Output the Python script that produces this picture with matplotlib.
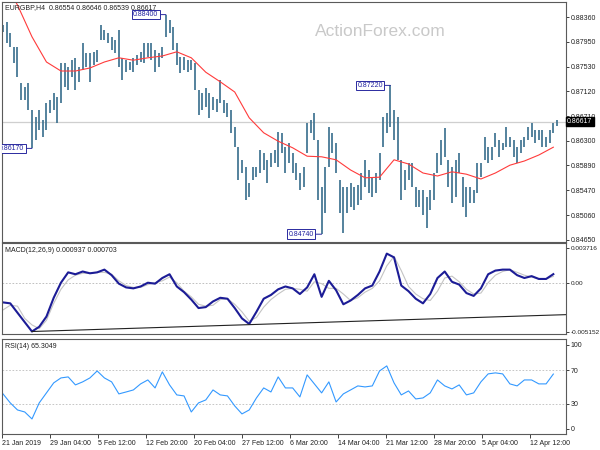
import matplotlib
matplotlib.use("Agg")
import matplotlib.pyplot as plt
import numpy as np

plt.rcParams["font.family"] = ["Liberation Sans", "DejaVu Sans"]

# ---- data (one entry ~ 2.4 H4 candles) ----
symbol = "EURGBP,H4"
last_ohlc = [0.86554, 0.86646, 0.86539, 0.86617]

highs = [
    0.8823, 0.8828, 0.8809, 0.8786, 0.8786, 0.8726, 0.8719, 0.8726, 0.8681, 0.8669,
    0.8681, 0.8664, 0.8693, 0.8698, 0.8709, 0.8703, 0.8759, 0.8759, 0.8753, 0.8764,
    0.8768, 0.8753, 0.8793, 0.8776, 0.8776, 0.8778, 0.8781, 0.8823, 0.8814, 0.8809,
    0.8803, 0.8798, 0.8814, 0.8768, 0.8764, 0.8761, 0.8768, 0.8773, 0.8778, 0.8793,
    0.8793, 0.8793, 0.8781, 0.8776, 0.8786, 0.8840, 0.8831, 0.8819, 0.8793, 0.8769,
    0.8769, 0.8764, 0.8764, 0.8759, 0.8714, 0.8709, 0.8718, 0.8709, 0.8703, 0.8699,
    0.8731, 0.8698, 0.8693, 0.8681, 0.8653, 0.8619, 0.8598, 0.8586, 0.8559, 0.8586,
    0.8586, 0.8614, 0.8609, 0.8598, 0.8609, 0.8614, 0.8644,
    0.8643, 0.8619, 0.8626, 0.8609, 0.8593, 0.8576, 0.8586, 0.8659, 0.8664, 0.8676,
    0.8631, 0.8553, 0.8586, 0.8653, 0.8643, 0.8626, 0.8564, 0.8553, 0.8553, 0.8559,
    0.8553, 0.8556, 0.8576, 0.8598, 0.8581, 0.8569, 0.8576, 0.8609, 0.8669, 0.8676,
    0.8722, 0.8681, 0.8669, 0.8598, 0.8581, 0.8593, 0.8593, 0.8553, 0.8548,
    0.8548, 0.8536, 0.8548, 0.8576, 0.8609, 0.8631, 0.8651, 0.8598, 0.8586, 0.8598,
    0.8609, 0.8569, 0.8553, 0.8553, 0.8548, 0.8593, 0.8593, 0.8636, 0.8619, 0.8619,
    0.8643, 0.8631, 0.8626, 0.8653, 0.8636, 0.8631, 0.8619, 0.8631, 0.8636, 0.8653,
    0.8659, 0.8648, 0.8648, 0.8648, 0.8636, 0.8648, 0.8659, 0.86646,
]
lows = [
    0.8811, 0.8793, 0.8786, 0.8759, 0.8736, 0.8698, 0.8698, 0.8681, 0.8617, 0.8631,
    0.8648, 0.8636, 0.8648, 0.8676, 0.8681, 0.8659, 0.8693, 0.8719, 0.8714, 0.8736,
    0.8714, 0.8728, 0.8748, 0.8753, 0.8728, 0.8756, 0.8761, 0.8798, 0.8798, 0.8793,
    0.8781, 0.8776, 0.8753, 0.8731, 0.8744, 0.8748, 0.8744, 0.8756, 0.8761, 0.8759,
    0.8769, 0.8764, 0.8744, 0.8753, 0.8768, 0.8803, 0.8809, 0.8781, 0.8756, 0.8743,
    0.8748, 0.8744, 0.8748, 0.8714, 0.8673, 0.8681, 0.8686, 0.8668, 0.8681, 0.8678,
    0.8693, 0.8676, 0.8669, 0.8643, 0.8619, 0.8564, 0.8576, 0.8531, 0.8536, 0.8564,
    0.8569, 0.8576, 0.8581, 0.8559, 0.8586, 0.8593, 0.8586,
    0.8609, 0.8576, 0.8593, 0.8576, 0.8564, 0.8548, 0.8553, 0.8609, 0.8643, 0.8631,
    0.8531, 0.8474, 0.8509, 0.8586, 0.8609, 0.8576, 0.8509, 0.8476, 0.8509, 0.8519,
    0.8514, 0.8523, 0.8531, 0.8553, 0.8543, 0.8536, 0.8543, 0.8564, 0.8619, 0.8643,
    0.8653, 0.8631, 0.8598, 0.8531, 0.8548, 0.8564, 0.8553, 0.8519, 0.8519,
    0.8506, 0.8484, 0.8514, 0.8531, 0.8576, 0.8589, 0.8603, 0.8553, 0.8526, 0.8536,
    0.8576, 0.8519, 0.8503, 0.8526, 0.8526, 0.8543, 0.8569, 0.8598, 0.8593, 0.8598,
    0.8619, 0.8603, 0.8614, 0.8619, 0.8619, 0.8603, 0.8593, 0.8609, 0.8619, 0.8631,
    0.8636, 0.8626, 0.8631, 0.8619, 0.8619, 0.8626, 0.8643, 0.86539,
]

# moving average, every 4th bar
ma_values = [
    0.8897, 0.8856, 0.8803, 0.8761, 0.8746, 0.8746, 0.8751, 0.8761, 0.8768, 0.8764,
    0.8768, 0.8771, 0.8778, 0.8768, 0.8744, 0.8728, 0.8711, 0.8668, 0.8643, 0.8629,
    0.8618, 0.8604, 0.8603, 0.8598, 0.8581, 0.8568, 0.8569, 0.8598, 0.8591, 0.8576,
    0.8571, 0.8578, 0.8574, 0.8566, 0.8576, 0.8589, 0.8596, 0.8606, 0.8619,
]

# MACD and RSI, every 2nd bar
macd_main = [
    -0.00206, -0.00216, -0.00316, -0.00416, -0.00515, -0.00465, -0.00356, -0.00157, 0.00003, 0.00113,
    0.00093, 0.00122, 0.00103, 0.00113, 0.00142, 0.00083, -0.00007, -0.00047, -0.00057, -0.00037,
    0.00003, -0.00007, 0.00053, 0.00093, -0.00037, -0.00097, -0.00176, -0.00266, -0.00256, -0.00196,
    -0.00157, -0.00167, -0.00266, -0.00376, -0.00435, -0.00306, -0.00167, -0.00127, -0.00067, -0.00037,
    -0.00057, -0.00117, -0.00047, 0.00093, -0.00147, 0.00023, -0.00077, -0.00226, -0.00186, -0.00127,
    -0.00057, -0.00027, 0.00122, 0.00312, 0.00272, -0.00027, -0.00087, -0.00167, -0.00216, -0.00117,
    0.00053, 0.00122, 0.00013, -0.00017, -0.00107, -0.00137, -0.00057, 0.00093, 0.00132, 0.00142,
    0.00142, 0.00083, 0.00053, 0.00073, 0.00043, 0.00043, 0.00094,
]
macd_signal = [
    -0.00286, -0.00236, -0.00246, -0.00376, -0.00445, -0.00485, -0.00396, -0.00216, -0.00067, 0.00033,
    0.00083, 0.00103, 0.00103, 0.00113, 0.00113, 0.00093, 0.00023, -0.00027, -0.00047, -0.00047,
    -0.00017, 0.00003, 0.00023, 0.00063, 0.00003, -0.00087, -0.00147, -0.00226, -0.00246, -0.00236,
    -0.00176, -0.00167, -0.00226, -0.00306, -0.00406, -0.00366, -0.00256, -0.00176, -0.00117, -0.00067,
    -0.00057, -0.00067, -0.00087, 0.00013, -0.00007, -0.00057, -0.00057, -0.00117, -0.00186, -0.00157,
    -0.00097, -0.00057, 0.00023, 0.00182, 0.00282, 0.00132, -0.00037, -0.00117, -0.00167, -0.00186,
    -0.00087, 0.00053, 0.00073, 0.00013, -0.00067, -0.00117, -0.00107, 0.00003, 0.00083, 0.00122,
    0.00142, 0.00113, 0.00083, 0.00063, 0.00043, 0.00043, 0.00070,
]
rsi_values = [
    41.7, 31.0, 22.6, 20.2, 11.9, 31.0, 42.9, 54.8, 60.7, 61.9,
    52.4, 56.0, 60.7, 69.0, 60.7, 56.0, 41.7, 44.0, 46.4, 53.6,
    58.3, 48.8, 67.9, 52.4, 40.5, 39.3, 20.2, 31.0, 34.5, 46.4,
    40.5, 39.3, 27.4, 17.9, 22.6, 36.9, 48.8, 44.0, 61.9, 48.8,
    48.8, 38.1, 64.3, 53.6, 42.9, 56.0, 32.1, 41.7, 46.4, 51.2,
    50.0, 51.2, 69.0, 75.0, 54.8, 40.5, 45.2, 35.7, 36.9, 42.9,
    58.3, 51.2, 47.6, 52.4, 40.5, 42.9, 56.0, 65.5, 66.7, 65.5,
    53.6, 51.2, 58.3, 58.3, 53.6, 53.6, 65.3,
]
macd_trend = [-0.00515, -0.00336]  # support line under the MACD lows

price_ticks = [0.88360, 0.87950, 0.87530, 0.87120, 0.86710,
               0.86300, 0.85890, 0.85470, 0.85060, 0.84650]
macd_ticks = [0.003716, 0.0, -0.005152]
macd_tick_labels = ["0.003716", "0.00", "-0.005152"]
rsi_ticks = [100, 70, 30, 0]
date_labels = ["21 Jan 2019", "29 Jan 04:00", "5 Feb 12:00", "12 Feb 20:00",
               "20 Feb 04:00", "27 Feb 12:00", "6 Mar 20:00", "14 Mar 04:00",
               "21 Mar 12:00", "28 Mar 20:00", "5 Apr 04:00", "12 Apr 12:00"]
swing_levels = [0.88400, 0.87220, 0.84740, 0.86170]

# ---- layout ----
W, H = 600, 450
fig = plt.figure(figsize=(6, 4.5), dpi=100, facecolor="white")


def panel(top, bottom):
    return fig.add_axes([2 / W, 1 - bottom / H, 564 / W, (bottom - top) / H])


ax_p = panel(2, 242)
ax_m = panel(243, 334)
ax_r = panel(339, 434)

highs = np.array(highs)
lows = np.array(lows)
n = len(highs)
bars = np.arange(n)
every2 = np.arange(0, n, 2)[:len(macd_main)]
every4 = np.arange(0, n, 4)[:len(ma_values)]
xlim = (-0.28, 155.5)

edge = "#5a5a5a"
txt = "#202020"
for ax in (ax_p, ax_m, ax_r):
    ax.set_xlim(*xlim)
    ax.yaxis.tick_right()
    ax.tick_params(axis="y", direction="out", length=2.5, width=0.6, pad=1,
                   labelsize=5, colors=txt)
    for s in ax.spines.values():
        s.set_color(edge)
        s.set_linewidth(0.8)

# price panel
ax_p.axhline(last_ohlc[3], color="#cfcfcf", lw=0.9, zorder=0)
ax_p.vlines(bars, lows, highs, color="#3f7391", lw=1.25)
ax_p.plot(every4, ma_values, color="#ff3b3b", lw=0.8)
ax_p.set_ylim(0.84610, 0.88610)
ax_p.set_yticks(price_ticks)
ax_p.set_yticklabels([f"{v:.5f}" for v in price_ticks])
ax_p.set_xticks([])

for lvl in swing_levels:
    idx = int(np.argmin(np.minimum(np.abs(highs - lvl), np.abs(lows - lvl))))
    ann = ax_p.annotate(f"{lvl:.5f}", xy=(idx, lvl), xytext=(-5.5, 0),
                        textcoords="offset points", ha="right", va="center",
                        fontsize=5, color="#2222a0",
                        bbox=dict(boxstyle="square,pad=0.2", fc="white",
                                  ec="#2a2aa0", lw=0.7),
                        arrowprops=dict(arrowstyle="-", color="#2a2aa0", lw=0.7,
                                        shrinkA=0, shrinkB=0))
    ann.set_clip_path(ax_p.patch)

ax_p.text(1.002, last_ohlc[3], f"{last_ohlc[3]:.5f}", transform=ax_p.get_yaxis_transform(),
          ha="left", va="center", fontsize=5, color="white",
          bbox=dict(boxstyle="square,pad=0.2", fc="black", ec="black"), clip_on=False)

fig.text(5 / W, 1 - 8 / H, f"{symbol}  " + " ".join(f"{v:.5f}" for v in last_ohlc),
         fontsize=5, color=txt, va="center")
fig.text(315 / W, 1 - 31 / H, "ActionForex.com", fontsize=12.5, color="#c9c9c9",
         va="center")

# MACD panel
ax_m.axhline(0, color="#b5b5b5", lw=0.6, ls=(0, (2, 2)))
ax_m.plot(every2, macd_signal, color="#c4c4c4", lw=0.8)
ax_m.plot(every2, macd_main, color="#1c1c96", lw=1.5)
trend_start = every2[int(np.argmin(macd_main))]
ax_m.plot([trend_start, xlim[1]], macd_trend, color="#222222", lw=0.8)
ax_m.set_ylim(-0.005415, 0.004247)
ax_m.set_yticks(macd_ticks)
ax_m.set_yticklabels(macd_tick_labels)
ax_m.tick_params(axis="y", labelsize=4.6, pad=0.8)
ax_m.set_xticks([])
fig.text(5 / W, 1 - 250 / H, "MACD(12,26,9) 0.000937 0.000703", fontsize=5,
         color=txt, va="center")

# RSI panel
for lvl in (70, 30):
    ax_r.axhline(lvl, color="#bdbdbd", lw=0.6, ls=(0, (2, 2)))
ax_r.plot(every2, rsi_values, color="#3399ff", lw=0.8)
ax_r.set_ylim(-6, 107)
ax_r.set_yticks(rsi_ticks)
ax_r.set_yticklabels([str(v) for v in rsi_ticks])
ax_r.set_xticks(xlim[0] + np.arange(len(date_labels)) * 13.26)
ax_r.set_xticklabels(date_labels, ha="left")
ax_r.tick_params(axis="x", direction="out", length=3, width=0.6, pad=1.5,
                 labelsize=5, colors=txt)
fig.text(5 / W, 1 - 347 / H, "RSI(14) 65.3049", fontsize=5, color=txt, va="center")

fig.savefig("out.png", dpi=100)
